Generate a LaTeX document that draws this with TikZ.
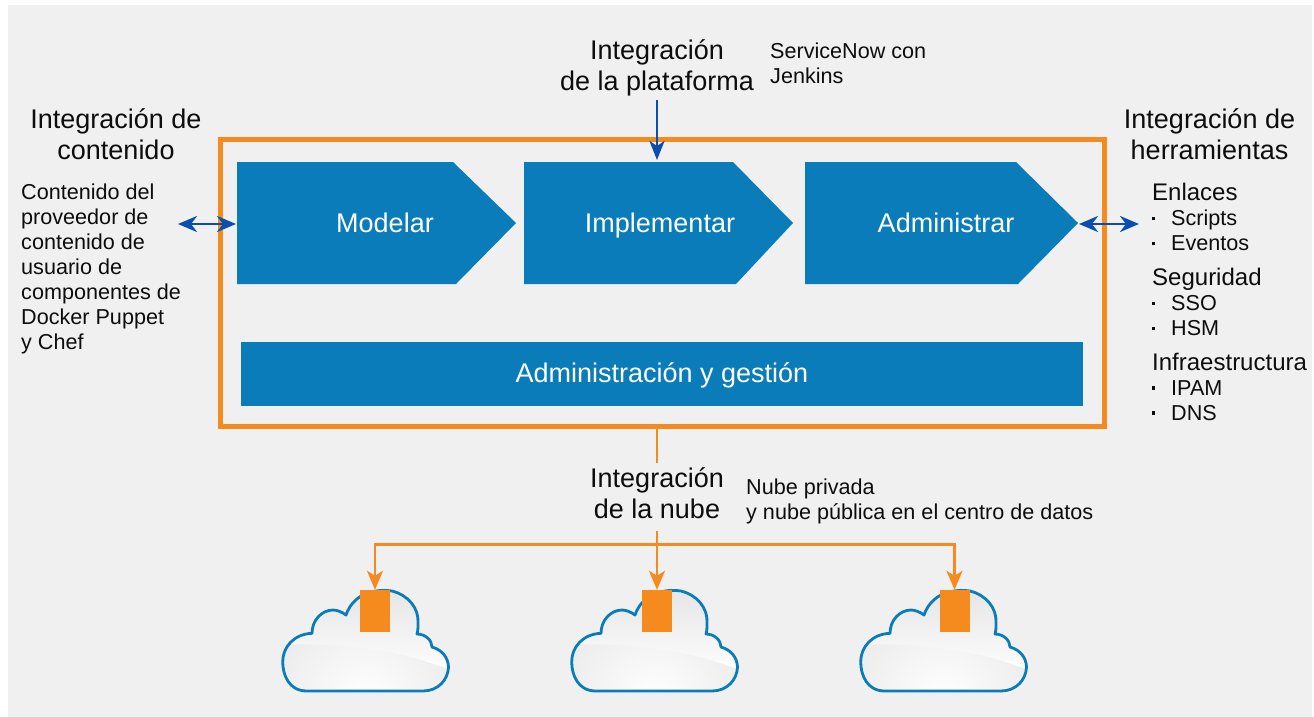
\documentclass[tikz,border=0pt]{standalone}
\usepackage{fontspec}
\setmainfont{Liberation Sans}
\usetikzlibrary{arrows.meta}
\definecolor{bg}{HTML}{F0F0F0}
\definecolor{org}{HTML}{F58A1F}
\definecolor{blu}{HTML}{0A7CBA}
\definecolor{dblu}{HTML}{0A4FB0}
\tikzset{
 x=1pt,y=-1pt,
 headtxt/.style={font=\fontsize{27}{31}\selectfont,align=center,inner sep=0pt,text=black!95},
 bodytxt/.style={font=\fontsize{21.6}{25}\selectfont,align=left,inner sep=0pt,anchor=north west,text=black!95},
 cattxt/.style={font=\fontsize{24}{25}\selectfont,align=left,inner sep=0pt,anchor=base west,text=black!95},
 boxtxt/.style={font=\fontsize{27}{30}\selectfont,text=white,inner sep=0pt,anchor=base},
 chev/.style={fill=blu,draw=none},
 bar/.style={fill=blu,draw=none,inner sep=0pt,minimum width=842pt,minimum height=64pt},
 frame/.style={draw=org,line width=5.2pt,fill=none,inner sep=0pt,minimum width=884.4pt,minimum height=287pt},
 osq/.style={fill=org,draw=none,inner sep=0pt,minimum width=30pt,minimum height=42pt},
 dbl/.style={draw=dblu,line width=2.8pt,{Stealth[length=19pt,width=16pt,inset=6pt]}-{Stealth[length=19pt,width=16pt,inset=6pt]}},
 single/.style={draw=dblu,line width=2.8pt,-{Stealth[length=19pt,width=15pt,inset=5pt]}},
 oline/.style={draw=org,line width=2.6pt},
 oarrow/.style={draw=org,line width=2.6pt,-{Stealth[length=19pt,width=16pt,inset=5pt]}},
}
\newcommand{\blt}{\makebox[19pt][l]{\rule[5.5pt]{3.2pt}{3.2pt}}}
\newcommand{\cloudpath}{(46.7,171) .. controls (29,171) and (22.7,155) .. (22.7,141.7)
 .. controls (22.7,127) and (34,114) .. (52,113.3)
 .. controls (52,100) and (62,90) .. (73,90) .. controls (77,90) and (82,92) .. (86,95)
 .. controls (90,83) and (100,74) .. (112,72)
 .. controls (118,70) and (126,70) .. (132,71) .. controls (148,75) and (159,88) .. (158,103)
 .. controls (158,107) and (158,111) .. (157,114)
 .. controls (165,114) and (172,120) .. (172,127)
 .. controls (182,130) and (188,137) .. (188.5,147)
 .. controls (188,160) and (178,171) .. (163,171) -- cycle}
\newcommand{\onecloud}[1]{%
 \begin{scope}[shift={(#1,520)}]
 \begin{scope}
  \clip \cloudpath;
  \fill[white] (0,50) rectangle (200,180);
  \shade[top color=black!10,bottom color=black!2] (0,70) rectangle (200,140);
  \begin{scope}
   \clip (15,125) .. controls (80,122) and (140,130) .. (190,150) -- (190,175) -- (15,175) -- cycle;
   \shade[inner color=white,outer color=black!15] (105,180) circle (190);
  \end{scope}
 \end{scope}
 \draw[blu,line width=2.8pt,line join=round] \cloudpath;
 \end{scope}}
\begin{document}
\begin{tikzpicture}[line cap=butt]
\useasboundingbox (0,0) rectangle (1314,717);
\fill[white] (0,0) rectangle (1314,717);
\fill[bg] (8,5) rectangle (1312,717);
% clouds
\onecloud{260}\onecloud{549}\onecloud{838}
% frame
\node[frame] (fr) at (662.5,283) {};
% chevrons
\fill[chev] (237,162) -- (453,162) -- (516,223) -- (456,284) -- (237,284) -- cycle;
\fill[chev] (524,162) -- (733,162) -- (793,223) -- (736,284) -- (524,284) -- cycle;
\fill[chev] (805,162) -- (1016,162) -- (1078,223) -- (1018,284) -- (805,284) -- cycle;
\node[boxtxt] (m) at (385,232) {Modelar};
\node[boxtxt] (i) at (660,232) {Implementar};
\node[boxtxt] (a) at (946,232) {Administrar};
\coordinate (mw) at (236,224);
\coordinate (ae) at (1079,224);
\coordinate (itop) at (657,160);
\node[bar] (adm) at (662,374) {};
\node[boxtxt] (admt) at (662,382) {Administración y gestión};
% texts
\node[headtxt] (hp) at (657,68) {Integración\\de la plataforma};
\node[bodytxt] (sn) at (770,43) {ServiceNow con\\Jenkins};
\node[headtxt] (hc) at (116,134.5) {Integración de\\contenido};
\node[bodytxt] (cc) at (21,184) {Contenido del\\proveedor de\\contenido de\\usuario de\\componentes de\\Docker Puppet\\y Chef};
\node[headtxt] (hh) at (1209.5,134.5) {Integración de\\herramientas};
\node[cattxt] (t1) at (1152,200) {Enlaces};
\node[bodytxt] (t2) at (1152,210) {\blt Scripts\\\blt Eventos};
\node[cattxt] (t3) at (1152,285) {Seguridad};
\node[bodytxt] (t4) at (1152,295) {\blt SSO\\\blt HSM};
\node[cattxt] (t5) at (1152,370) {Infraestructura};
\node[bodytxt] (t6) at (1152,380) {\blt IPAM\\\blt DNS};
\node[headtxt] (hn) at (657,493) {Integración\\de la nube};
\node[bodytxt] (nb) at (746,478.5) {Nube privada\\y nube pública en el centro de datos};
% squares
\node[osq] (s1) at (375,611) {};
\node[osq] (s2) at (657,611) {};
\node[osq] (s3) at (954.5,611) {};
% connectors
\coordinate (cl) at (178,224);
\coordinate (cr) at (1139,224);
\coordinate (pt) at (657,100);
\coordinate (n1) at (657,463);
\coordinate (n2) at (657,531);
\coordinate (j) at (657,544.5);
\draw[dbl] (cl) -- (mw);
\draw[dbl] (ae) -- (cr);
\draw[single] (pt) -- (itop);
\draw[oline] (fr.south -| n1) -- (n1);
\draw[oarrow] (n2) -- (s2.north);
\draw[oarrow] (j) -| (s1.north);
\draw[oarrow] (j) -| (s3.north);
\end{tikzpicture}
\end{document}
